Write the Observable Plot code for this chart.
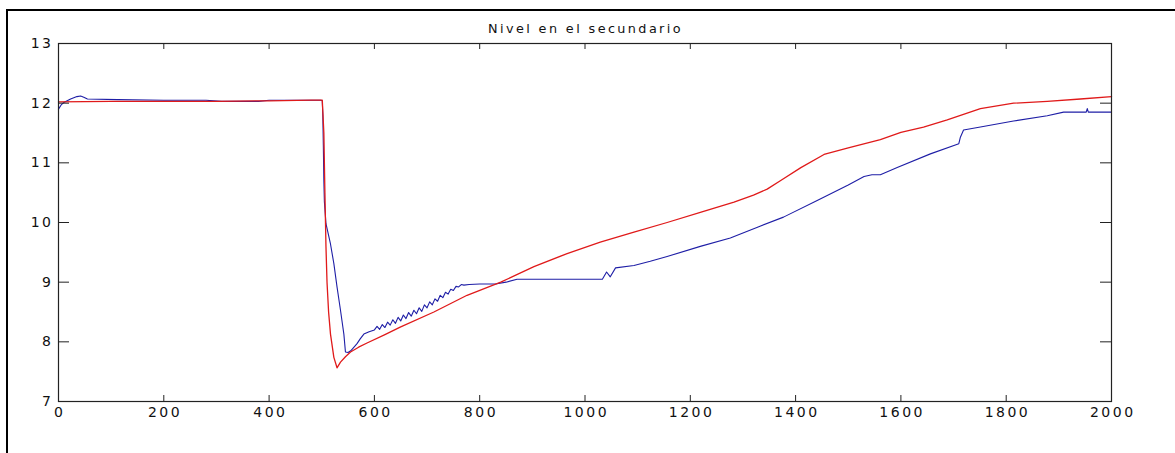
<!DOCTYPE html>
<html>
<head>
<meta charset="utf-8">
<script src="https://cdn.jsdelivr.net/npm/d3@7"></script>
<script src="https://cdn.jsdelivr.net/npm/@observablehq/plot@0.6"></script>
<style>
  body { margin: 0; background: #fff; }
  #wrap { position: relative; width: 1175px; height: 453px; overflow: hidden; background: #fff; }
  #border { position: absolute; left: 6px; top: 9px; width: 1400px; height: 700px;
            border-left: 2px solid #000; border-top: 2px solid #000; }
  #title { position: absolute; top: 21px; left: 59px; width: 1053px; text-align: center;
           font: 12.8px "DejaVu Sans", sans-serif; letter-spacing: 2.4px; color: #111; }
  #chart { position: absolute; left: 0; top: 0; }
</style>
</head>
<body>
<div id="wrap">
  <div id="border"></div>
  <div id="chart"></div>
  <div id="title">Nivel en el secundario</div>
</div>
<script>
// ---- data ----
const xTicks = [0, 200, 400, 600, 800, 1000, 1200, 1400, 1600, 1800, 2000];
const yTicks = [7, 8, 9, 10, 11, 12, 13];

const blueT = [0, 5, 10, 23, 35, 42, 48, 55, 112, 200, 280, 310, 380, 400, 498, 501, 502, 503, 504, 505, 508,
  516.6, 523, 529, 535.6, 542, 545, 550, 555, 560, 567, 573, 580, 590, 600,
  605, 610, 615, 620, 625, 630, 635, 640, 645, 650, 655, 660, 665, 670, 675, 680, 685, 690, 695, 700,
  705, 710, 715, 720, 725, 730, 735, 740, 745, 750, 755, 760, 765, 770, 780, 800, 830, 850, 871,
  1033, 1041, 1048, 1058, 1093, 1124, 1156, 1219, 1276, 1330, 1377, 1441, 1500, 1530, 1545, 1561, 1593,
  1656, 1710, 1713, 1719, 1751, 1814, 1878, 1909, 1952, 1954, 1956, 2000];
const blueLevel = [11.90, 11.97, 12.01, 12.07, 12.11, 12.12, 12.10, 12.07, 12.06, 12.05, 12.05, 12.03, 12.03, 12.05, 12.05, 12.04, 11.8, 11.3, 10.7, 10.35, 9.98,
  9.64, 9.31, 8.92, 8.53, 8.13, 7.83, 7.82, 7.85, 7.90, 7.97, 8.05, 8.13, 8.17, 8.20,
  8.26, 8.21, 8.29, 8.24, 8.33, 8.28, 8.37, 8.31, 8.41, 8.35, 8.45, 8.39, 8.49, 8.43, 8.53, 8.47, 8.57, 8.51, 8.62, 8.57,
  8.67, 8.62, 8.72, 8.68, 8.78, 8.74, 8.83, 8.80, 8.88, 8.86, 8.93, 8.92, 8.96, 8.95, 8.96, 8.97, 8.97, 9.00, 9.05,
  9.05, 9.17, 9.09, 9.24, 9.28, 9.35, 9.43, 9.60, 9.74, 9.93, 10.09, 10.37, 10.63, 10.77, 10.80, 10.80, 10.92,
  11.15, 11.32, 11.43, 11.55, 11.60, 11.70, 11.79, 11.85, 11.85, 11.91, 11.85, 11.85];

const redT = [0, 100, 300, 400, 480, 501, 504, 506, 508, 510, 513, 516.6, 523, 529, 535.6, 545, 554.6, 570, 586,
  620, 650, 713, 776, 840, 903, 966, 1029, 1093, 1156, 1219, 1283, 1320, 1346, 1371, 1410, 1454, 1500,
  1561, 1600, 1643, 1688, 1751, 1814, 1878, 1941, 2000];
const redLevel = [12.02, 12.03, 12.03, 12.04, 12.05, 12.05, 11.5, 10.5, 9.6, 9.0, 8.5, 8.13, 7.74, 7.565, 7.66, 7.75, 7.83, 7.91, 7.98,
  8.12, 8.25, 8.50, 8.78, 9.00, 9.26, 9.48, 9.67, 9.84, 10.00, 10.17, 10.34, 10.46, 10.56, 10.70, 10.92, 11.14, 11.25,
  11.39, 11.51, 11.60, 11.72, 11.91, 12.00, 12.03, 12.07, 12.11];

// ---- build tables ----
const blue = blueT.map((t, i) => ({t, v: blueLevel[i]}));
const red = redT.map((t, i) => ({t, v: redLevel[i]}));

const W = 1175, H = 453;
const mL = 58, mR = 64, mT = 43, mB = 52;
const plotW = W - mL - mR, plotH = H - mT - mB;

const chart = Plot.plot({
  width: W, height: H,
  marginLeft: mL, marginRight: mR, marginTop: mT, marginBottom: mB,
  style: {fontFamily: "'DejaVu Sans', sans-serif", fontSize: "14px", letterSpacing: "2.5px", color: "#111", background: "transparent"},
  x: {domain: [0, 2000]},
  y: {domain: [7, 13]},
  marks: [
    Plot.line(blue, {x: "t", y: "v", stroke: "#1e1ea6", strokeWidth: 1.1}),
    Plot.line(red, {x: "t", y: "v", stroke: "#e01a1a", strokeWidth: 1.3}),
    Plot.frame({stroke: "#222", strokeWidth: 1.2}),
    Plot.tickX(xTicks, {x: d => d, insetTop: plotH - 6, stroke: "#222"}),
    Plot.tickX(xTicks, {x: d => d, insetBottom: plotH - 6, stroke: "#222"}),
    Plot.tickY(yTicks, {y: d => d, insetRight: plotW - 11, stroke: "#222"}),
    Plot.tickY(yTicks, {y: d => d, insetLeft: plotW - 11, stroke: "#222"}),
    Plot.axisX({ticks: xTicks, tickSize: 0, tickPadding: 6, dx: 1.25, tickFormat: d => String(d), label: null}),
    Plot.axisY({ticks: yTicks, tickSize: 0, tickPadding: 5, tickFormat: d => String(d), label: null})
  ]
});
document.getElementById("chart").appendChild(chart);
</script>
</body>
</html>
